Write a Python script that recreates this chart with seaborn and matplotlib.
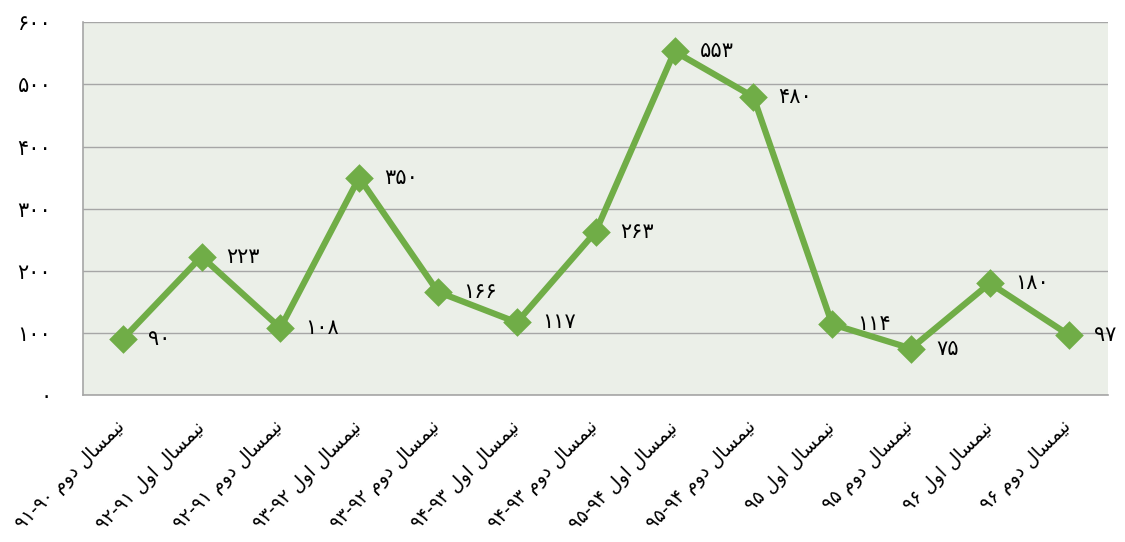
import pandas as pd
import seaborn as sns
import matplotlib.pyplot as plt

# semester terms and academic years (logical Persian order)
terms = ['دوم', 'اول', 'دوم', 'اول', 'دوم', 'اول', 'دوم', 'اول', 'دوم', 'اول', 'دوم', 'اول', 'دوم']
years = ['۹۰-۹۱', '۹۱-۹۲', '۹۱-۹۲', '۹۲-۹۳', '۹۲-۹۳', '۹۳-۹۴', '۹۳-۹۴', '۹۴-۹۵', '۹۴-۹۵',
         '۹۵', '۹۵', '۹۶', '۹۶']
counts = [90, 223, 108, 350, 166, 117, 263, 553, 480, 114, 75, 180, 97]
yticks = [0, 100, 200, 300, 400, 500, 600]

FA_DIGITS = str.maketrans('0123456789', '۰۱۲۳۴۵۶۷۸۹')

# presentation forms: isolated, final, initial, medial
FORMS = {
    'ن': ('\uFEE5', '\uFEE6', '\uFEE7', '\uFEE8'),
    'ی': ('\uFEF1', '\uFEF2', '\uFEF3', '\uFEF4'),
    'م': ('\uFEE1', '\uFEE2', '\uFEE3', '\uFEE4'),
    'س': ('\uFEB1', '\uFEB2', '\uFEB3', '\uFEB4'),
    'ل': ('\uFEDD', '\uFEDE', '\uFEDF', '\uFEE0'),
    'ا': ('\uFE8D', '\uFE8E'),
    'د': ('\uFEA9', '\uFEAA'),
    'و': ('\uFEED', '\uFEEE'),
}


def shape_word(w):
    # simple arabic joining, returns glyphs in visual (left to right) order
    out = []
    for i, ch in enumerate(w):
        prev_joins = i > 0 and len(FORMS[w[i - 1]]) == 4
        next_joins = i < len(w) - 1 and len(FORMS[ch]) == 4
        f = FORMS[ch]
        if prev_joins and next_joins:
            out.append(f[3])
        elif prev_joins:
            out.append(f[1])
        elif next_joins:
            out.append(f[2])
        else:
            out.append(f[0])
    return ''.join(out[::-1])


def make_label(term, year):
    yr = '-'.join(year.split('-')[::-1])
    return yr + ' ' + shape_word(term) + ' ' + shape_word('نیمسال')


labels = [make_label(t, y) for t, y in zip(terms, years)]
df = pd.DataFrame({'term': labels, 'count': counts})

plt.rcParams['font.family'] = ['DejaVu Sans']
green = '#70AD47'

fig = plt.figure(figsize=(11.25, 5.42), dpi=100)
ax = fig.add_axes([0.074, 0.271, 0.911, 0.688])
ax.set_facecolor('#EBEFE8')

sns.pointplot(data=df, x='term', y='count', color=green, markers='D',
              markersize=11, linewidth=4.5, errorbar=None, ax=ax)

for i, v in enumerate(counts):
    ax.annotate(str(v).translate(FA_DIGITS), (i, v), xytext=(18, 0),
                textcoords='offset points', ha='left', va='center', fontsize=15)

ax.set_ylim(0, 600)
ax.set_xlim(-0.5, len(counts) - 0.5)
ax.set_yticks(yticks)
ax.set_yticklabels([str(t).translate(FA_DIGITS) for t in yticks], fontsize=15)
ax.set_xticks(range(len(labels)))
ax.set_xticklabels(labels, rotation=45, ha='right', va='center',
                   rotation_mode='anchor', fontsize=13.5)
ax.tick_params(axis='y', length=0, pad=23)
ax.tick_params(axis='x', length=0, pad=21)
ax.yaxis.grid(True, color='#A6A6A6', linewidth=1)
ax.set_axisbelow(True)
for s in ['top', 'right']:
    ax.spines[s].set_visible(False)
for s in ['left', 'bottom']:
    ax.spines[s].set_color('#A6A6A6')
    ax.spines[s].set_linewidth(1.2)
ax.set_xlabel(None)
ax.set_ylabel(None)

fig.savefig('out.png', dpi=100)
